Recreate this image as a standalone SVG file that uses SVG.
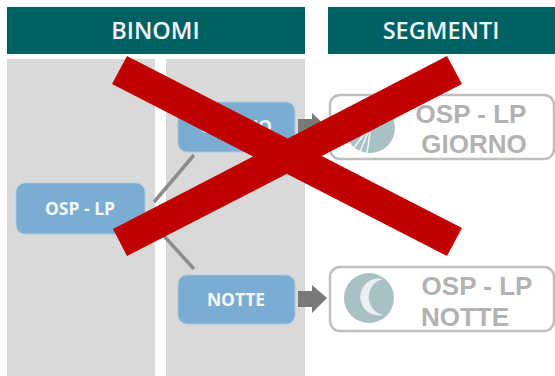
<svg xmlns="http://www.w3.org/2000/svg" width="555" height="376" viewBox="0 0 555 376">
<style>
text{font-family:"Open Sans","Liberation Sans",sans-serif;text-anchor:middle}
.hdr{fill:#006064}
.hdrt{fill:#eef8f8;font-size:23.5px;font-weight:600}
.panel{fill:#d9d9d9}
.node{fill:#7badd3;stroke:#a9c9e2;stroke-width:1}
.nt{fill:#f4f8fb;font-size:17.5px;font-weight:700}
.seg{fill:#fff;stroke:#bfbfbf;stroke-width:2.5}
.st{fill:#b2b2b2;font-size:26px;font-weight:700;font-family:"Liberation Sans",sans-serif}
.icon{fill:#a9c1c5}
.conn{stroke:#8c8c8c;stroke-width:3.5;fill:none}
.arr{fill:#77797b}
.cross{fill:#c00000}
</style>
<rect width="555" height="376" fill="#fff"/>
<g id="header-binomi"><rect class="hdr" x="7" y="7" width="298" height="47"/><text class="hdrt" x="155.5" y="39">BINOMI</text></g>
<g id="header-segmenti"><rect class="hdr" x="328" y="7" width="227" height="47"/><text class="hdrt" x="441" y="39">SEGMENTI</text></g>
<g id="panel-1"><rect class="panel" x="7" y="59" width="148" height="317"/></g>
<g id="panel-2"><rect class="panel" x="166" y="59" width="139" height="317"/></g>
<g id="connectors">
<line class="conn" x1="154" y1="202" x2="194" y2="155"/>
<line class="conn" x1="154" y1="225" x2="194" y2="269"/>
<path class="arr" d="M298 119h14v-6l15 14-15 14v-6h-14z"/>
<path class="arr" d="M298 291h14v-6l15 13-15 15v-6h-14z"/>
</g>
<g id="node-osp-lp"><rect class="node" x="16" y="183" width="129" height="51" rx="9"/><text class="nt" x="80" y="215">OSP - LP</text></g>
<g id="node-giorno"><rect class="node" x="178" y="102" width="117" height="50" rx="9"/><text class="nt" x="236" y="133">GIORNO</text></g>
<g id="node-notte"><rect class="node" x="178" y="275" width="117" height="49" rx="9"/><text class="nt" x="236" y="306">NOTTE</text></g>
<g id="segment-giorno"><rect class="seg" x="330" y="95" width="224" height="64" rx="10"/>
<circle class="icon" cx="370" cy="128" r="25"/>
<path d="M352 150l14-18M360 152l8-20M367 153l3-21" stroke="#f2f6f6" stroke-width="1.5" fill="none"/>
<text class="st" x="471" y="123">OSP - LP</text><text class="st" x="474" y="153">GIORNO</text></g>
<g id="segment-notte"><rect class="seg" x="330" y="267" width="224" height="64" rx="10"/>
<circle class="icon" cx="369" cy="298" r="25"/>
<path d="M383 279A18.5 18.5 0 1 0 383 315A18.5 18.5 0 0 1 383 279z" fill="#e8f0f2"/>
<text class="st" x="477" y="295">OSP - LP</text><text class="st" x="465" y="326">NOTTE</text></g>
<g id="cross">
<polygon class="cross" points="127,56 462,228 447,256 112,84"/>
<polygon class="cross" points="447,56 462,84 127,256 113,229"/>
</g>
</svg>
